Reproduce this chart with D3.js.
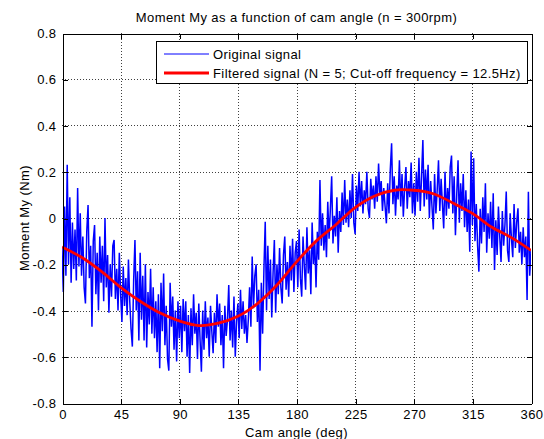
<!DOCTYPE html>
<html><head><meta charset="utf-8">
<script src="https://cdn.jsdelivr.net/npm/d3@7"></script>
<style>
body{margin:0;background:#fff}
svg text{font-family:"Liberation Sans",Arial,Helvetica,sans-serif;font-size:13px;letter-spacing:0.4px;fill:#000}
</style>
</head><body>
<svg id="chart" width="544" height="439"></svg>
<script>
// ---- data ----
const titleText = "Moment My as a function of cam angle (n = 300rpm)";
const xLabel = "Cam angle (deg)";
const yLabel = "Moment My (Nm)";
const legendLabels = ["Original signal", "Filtered signal (N = 5; Cut-off frequency = 12.5Hz)"];

const xTicks = [0, 45, 90, 135, 180, 225, 270, 315, 360];
const yTicks = [-0.8, -0.6, -0.4, -0.2, 0, 0.2, 0.4, 0.6, 0.8];
const yTickLabels = ["-0.8", "-0.6", "-0.4", "-0.2", "0", "0.2", "0.4", "0.6", "0.8"];

// original signal, one sample per degree, 0..360
const originalSignal = [
 -0.13,-0.32,0.05,-0.25,0.23,-0.20,0.09,-0.28,-0.02,-0.22,
 -0.05,-0.27,0.13,-0.21,0.02,-0.25,-0.08,-0.30,-0.37,-0.06,
 0.056,-0.26,-0.12,-0.47,-0.10,-0.03,-0.33,-0.15,-0.40,-0.08,
 -0.28,-0.12,-0.36,0.0,-0.30,-0.16,-0.41,-0.20,-0.34,-0.12,
 -0.095,-0.35,-0.22,-0.40,-0.15,-0.33,-0.45,-0.21,-0.38,-0.26,
 -0.42,-0.18,-0.36,-0.48,-0.556,-0.27,-0.095,-0.40,-0.23,-0.53,
 -0.15,-0.44,-0.25,-0.53,-0.20,-0.56,-0.32,-0.46,-0.22,-0.50,
 -0.30,-0.52,-0.36,-0.58,-0.33,-0.65,-0.28,-0.49,-0.24,-0.55,
 -0.38,-0.61,-0.66,-0.28,-0.47,-0.34,-0.57,-0.40,-0.62,-0.36,
 -0.52,-0.38,-0.58,-0.35,-0.49,-0.36,-0.60,-0.42,-0.67,-0.39,
 -0.55,-0.33,-0.50,-0.41,-0.61,-0.37,-0.53,-0.665,-0.40,-0.57,
 -0.36,-0.52,-0.43,-0.60,-0.38,-0.49,-0.585,-0.41,-0.54,-0.33,
 -0.47,-0.37,-0.55,-0.42,-0.65,-0.38,-0.51,-0.44,-0.29,-0.53,
 -0.40,-0.56,-0.34,-0.60,-0.45,-0.37,-0.52,-0.31,-0.48,-0.36,
 -0.50,-0.42,-0.54,-0.44,-0.30,-0.47,-0.167,-0.39,-0.25,-0.20,
 -0.45,-0.31,-0.66,-0.28,-0.50,-0.22,-0.016,-0.40,-0.12,-0.35,
 -0.18,-0.43,-0.24,-0.095,-0.41,-0.20,-0.33,-0.13,-0.30,-0.37,
 -0.16,-0.08,-0.31,-0.19,-0.34,-0.12,-0.27,-0.09,-0.32,-0.15,
 -0.10,-0.30,-0.05,-0.26,-0.34,-0.08,-0.21,-0.31,-0.04,-0.24,
 -0.14,-0.33,-0.02,-0.20,-0.10,-0.30,-0.06,-0.18,0.164,-0.12,
 0.02,-0.14,-0.03,-0.17,0.07,-0.09,0.04,0.18,-0.11,0.01,
 -0.08,0.09,-0.15,0.03,-0.06,0.11,-0.03,0.164,-0.02,0.08,
 -0.04,0.12,0.00,0.19,-0.02,-0.07,0.14,0.03,0.20,0.05,
 0.16,0.02,0.12,0.06,0.20,0.04,0.00,0.17,0.08,0.14,
 0.04,0.18,0.07,0.236,0.10,0.16,0.03,0.13,0.05,-0.023,
 0.15,0.02,0.21,0.323,0.06,0.18,0.01,0.14,0.08,0.25,
 0.05,0.19,0.006,0.13,0.22,0.04,0.16,0.09,0.24,0.02,
 0.15,0.01,0.20,0.07,0.26,0.03,0.18,0.337,0.05,0.21,
 0.08,0.23,0.00,0.16,0.05,-0.05,0.19,0.02,0.12,0.25,
 0.03,0.17,0.06,-0.045,0.20,0.01,0.13,0.04,0.22,0.27,
 0.02,0.18,-0.074,0.10,0.25,-0.02,0.15,0.03,0.19,-0.04,
 0.12,-0.06,0.08,-0.146,0.287,-0.03,0.258,-0.10,0.06,-0.12,
 -0.232,0.04,-0.11,0.09,-0.06,0.15,-0.15,0.02,-0.09,0.07,
 -0.13,0.107,-0.225,-0.01,-0.16,0.05,-0.08,-0.19,0.03,-0.12,
 -0.03,0.114,-0.14,-0.19,0.02,-0.09,-0.17,0.06,-0.13,-0.02,
 0.042,-0.15,-0.06,-0.20,-0.04,-0.17,-0.08,-0.355,0.114,-0.25,
 -0.14
];

const filteredAngles = [0,15,30,45,60,75,90,105,120,135,150,165,180,195,210,225,240,255,270,285,300,315,330,345,360];
const filteredSignal = [-0.125,-0.17,-0.23,-0.30,-0.36,-0.41,-0.445,-0.465,-0.455,-0.425,-0.37,-0.29,-0.19,-0.10,-0.03,0.045,0.095,0.12,0.12,0.105,0.065,0.02,-0.04,-0.085,-0.14];

// ---- layout ----
const W = 544, H = 439;
const L = 62, R = 531, T = 33, B = 403;

const svg = d3.select("#chart");
svg.append("rect").attr("width", W).attr("height", H).attr("fill", "#fff");

const x = d3.scaleLinear().domain([0, 360]).range([L, R]);
const y = d3.scaleLinear().domain([-0.8, 0.8]).range([B, T]);

// grid
const grid = svg.append("g").attr("stroke", "#000").attr("stroke-width", 1)
  .attr("stroke-dasharray", "1,2").attr("opacity", 0.75);
grid.selectAll("line.vx").data(xTicks.slice(1, -1)).join("line")
  .attr("x1", d => Math.round(x(d)) + 0.5).attr("x2", d => Math.round(x(d)) + 0.5)
  .attr("y1", T).attr("y2", B);
grid.selectAll("line.hy").data(yTicks.slice(1, -1)).join("line")
  .attr("y1", d => Math.round(y(d)) + 0.5).attr("y2", d => Math.round(y(d)) + 0.5)
  .attr("x1", L).attr("x2", R);

// data
const clip = svg.append("clipPath").attr("id", "clip").append("rect")
  .attr("x", L).attr("y", T).attr("width", R - L).attr("height", B - T);
const plot = svg.append("g").attr("clip-path", "url(#clip)");

const orig = originalSignal.map((v, i) => [i, v]);
plot.append("path").datum(orig)
  .attr("fill", "none").attr("stroke", "#0000ff").attr("stroke-width", 1.5)
  .attr("stroke-linejoin", "miter").attr("stroke-miterlimit", 2)
  .attr("d", d3.line().x(d => x(d[0])).y(d => y(d[1])));

const filt = filteredAngles.map((a, i) => [a, filteredSignal[i]]);
plot.append("path").datum(filt)
  .attr("fill", "none").attr("stroke", "#ff0000").attr("stroke-width", 2.8)
  .attr("d", d3.line().curve(d3.curveCatmullRom).x(d => x(d[0])).y(d => y(d[1])));

// axes (ticks inward on all sides)
const xb = svg.append("g").attr("transform", `translate(0.5,${B + 0.5})`)
  .call(d3.axisBottom(x).tickValues(xTicks).tickSizeInner(-5).tickSizeOuter(0).tickPadding(6).tickFormat(d3.format("d")));
const xt = svg.append("g").attr("transform", `translate(0.5,${T + 0.5})`)
  .call(d3.axisTop(x).tickValues(xTicks).tickSizeInner(-5).tickSizeOuter(0).tickFormat(""));
const yl = svg.append("g").attr("transform", `translate(${L + 0.5},0.5)`)
  .call(d3.axisLeft(y).tickValues(yTicks).tickSizeInner(-5).tickSizeOuter(0).tickPadding(6)
    .tickFormat((d, i) => yTickLabels[i]));
const yr = svg.append("g").attr("transform", `translate(${R + 0.5},0.5)`)
  .call(d3.axisRight(y).tickValues(yTicks).tickSizeInner(-5).tickSizeOuter(0).tickFormat(""));
svg.selectAll(".domain, .tick line").attr("stroke", "#000").attr("shape-rendering", "crispEdges");
svg.selectAll(".tick text").attr("font-family", null).attr("font-size", null).style("fill", "#000");

// title and labels
svg.append("text").attr("x", (L + R) / 2).attr("y", 22).attr("text-anchor", "middle").text(titleText);
svg.append("text").attr("x", (L + R) / 2).attr("y", 437).attr("text-anchor", "middle").text(xLabel);
svg.append("text").attr("transform", `translate(24,${(T + B) / 2}) rotate(-90)`)
  .attr("text-anchor", "middle").attr("dy", "0.35em").text(yLabel);

// legend
const lg = svg.append("g");
const lx = 156, ly = 41, lw = 371, lh = 42;
lg.append("rect").attr("x", lx + 0.5).attr("y", ly + 0.5).attr("width", lw).attr("height", lh)
  .attr("fill", "#fff").attr("stroke", "#000").attr("shape-rendering", "crispEdges");
const legendStyles = [{c: "#0000ff", w: 1}, {c: "#ff0000", w: 2.8}];
legendLabels.forEach((t, i) => {
  const yy = ly + 13 + i * 19;
  lg.append("line").attr("x1", lx + 8).attr("x2", lx + 53).attr("y1", yy).attr("y2", yy)
    .attr("stroke", legendStyles[i].c).attr("stroke-width", legendStyles[i].w);
  lg.append("text").attr("x", lx + 57).attr("y", yy).attr("dy", "0.35em").text(t);
});
</script>
</body></html>
